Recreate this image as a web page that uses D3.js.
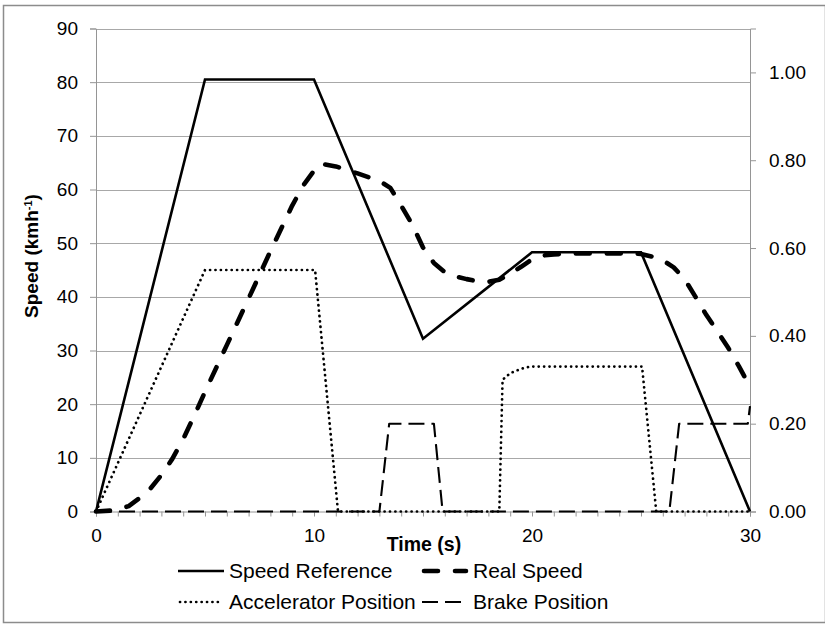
<!DOCTYPE html>
<html>
<head>
<meta charset="utf-8">
<script src="https://cdn.jsdelivr.net/npm/d3@7"></script>
<style>
  html, body { margin: 0; padding: 0; background: #fff; }
  svg { display: block; }
  text { font-family: "Liberation Sans", Arial, sans-serif; fill: #000; }
</style>
</head>
<body>
<svg id="chart" width="825" height="635"></svg>
<script>
// ---------------- DATA ----------------
const speedRefTime  = [0, 5, 10, 15, 20, 25, 30];
const speedRefValue = [0, 80.5, 80.5, 32.2, 48.3, 48.3, 0];

const realSpeedTime  = [0, 0.8, 1, 1.5, 2, 2.5, 3, 3.5, 4, 4.5, 5, 6, 7, 8, 9, 9.5, 10, 10.3, 11, 12, 13, 13.5, 14, 14.5, 15, 15.5, 16, 16.5, 17, 17.5, 18, 18.5, 19, 19.5, 20, 20.5, 21, 22, 23, 24, 25, 25.5, 26, 26.5, 27, 27.5, 28, 28.5, 29, 29.5, 30];
const realSpeedValue = [0, 0.2, 0.4, 1.0, 2.5, 4.3, 6.8, 9.8, 13.5, 17.8, 22.3, 31, 39.7, 48.5, 57, 60.7, 63.5, 64.8, 64.3, 63, 61.6, 60.3, 57, 53.5, 49.2, 46.3, 44.6, 43.8, 43.3, 42.9, 42.8, 43.2, 44.3, 45.6, 47, 47.7, 47.9, 48.1, 48.1, 48.1, 48, 47.5, 46.8, 45.5, 43.3, 40, 36.6, 33.6, 30.5, 27, 23.2];

const accelTime  = [0, 5, 10.05, 11.1, 18.5, 18.65, 19, 19.5, 19.9, 25.05, 25.7, 30];
const accelValue = [0, 0.55, 0.55, 0, 0, 0.30, 0.315, 0.325, 0.33, 0.33, 0, 0];

const brakeTime  = [0, 13.0, 13.45, 15.5, 15.9, 26.3, 26.75, 29.9, 30];
const brakeValue = [0, 0, 0.2, 0.2, 0, 0, 0.2, 0.2, 0.24];

const leftTicks  = [0, 10, 20, 30, 40, 50, 60, 70, 80, 90];
const rightTicks = [0, 0.2, 0.4, 0.6, 0.8, 1.0];
const xLabelTicks = [0, 10, 20, 30];
const xMinorTicks = d3.range(0, 31, 1);

const seriesNames = ["Speed Reference", "Real Speed", "Accelerator Position", "Brake Position"];

// ---------------- LAYOUT ----------------
const svg = d3.select("#chart");
const plot = { left: 96, right: 750, top: 28.5, bottom: 511.5 };

const x  = d3.scaleLinear().domain([0, 30]).range([plot.left, plot.right]);
const yL = d3.scaleLinear().domain([0, 90]).range([plot.bottom, plot.top]);
const yR = d3.scaleLinear().domain([0, 1.1]).range([plot.bottom, plot.top]);

const gridColor = "#a8a8a8";
const axisColor = "#959595";

// outer border
svg.append("rect")
  .attr("x", 3.5).attr("y", 5.5)
  .attr("width", 822).attr("height", 617)
  .attr("fill", "none").attr("stroke", "#8c8c8c").attr("stroke-width", 1.5);

// gridlines
svg.append("g").selectAll("line")
  .data(leftTicks.filter(d => d > 0))
  .join("line")
  .attr("x1", plot.left).attr("x2", plot.right)
  .attr("y1", d => Math.round(yL(d)) + 0.5).attr("y2", d => Math.round(yL(d)) + 0.5)
  .attr("stroke", gridColor).attr("stroke-width", 1);

// Left axis
const gL = svg.append("g").attr("transform", `translate(${plot.left},0)`)
  .call(d3.axisLeft(yL).tickValues(leftTicks).tickSize(6).tickPadding(12));
// Right axis
const gR = svg.append("g").attr("transform", `translate(${plot.right},0)`)
  .call(d3.axisRight(yR).tickValues(rightTicks).tickSize(6).tickPadding(13).tickFormat(d3.format(".2f")));
// Bottom axis
const gB = svg.append("g").attr("transform", `translate(0,${plot.bottom})`)
  .call(d3.axisBottom(x).tickValues(xMinorTicks).tickSize(5).tickPadding(12)
    .tickFormat(d => xLabelTicks.includes(d) ? d : ""));

[gL, gR, gB].forEach(g => {
  g.selectAll(".domain").attr("stroke", axisColor).attr("stroke-width", 1);
  g.selectAll(".tick line").attr("stroke", axisColor).attr("stroke-width", 1);
  g.selectAll(".tick text").attr("fill", "#000")
    .style("font-size", "19px").style("font-family", '"Liberation Sans", Arial, sans-serif');
});

// ---------------- LINES ----------------
const toPts = (t, v) => t.map((d, i) => [d, v[i]]);
const lineL = d3.line().x(d => x(d[0])).y(d => yL(d[1]));
const lineR = d3.line().x(d => x(d[0])).y(d => yR(d[1]));

const styles = [
  { w: 2.6, dash: null, cap: "butt" },
  { w: 4.6, dash: "14,17", cap: "round" },
  { w: 2.7, dash: "0.1,5.3", cap: "round" },
  { w: 2.1, dash: "16,7", cap: "butt" }
];

svg.append("path").datum(toPts(brakeTime, brakeValue))
  .attr("d", lineR).attr("fill", "none").attr("stroke", "#000")
  .attr("stroke-width", styles[3].w).attr("stroke-dasharray", styles[3].dash)
  .attr("stroke-linecap", styles[3].cap).attr("stroke-linejoin", "round");

svg.append("path").datum(toPts(accelTime, accelValue))
  .attr("d", lineR).attr("fill", "none").attr("stroke", "#000")
  .attr("stroke-width", styles[2].w).attr("stroke-dasharray", styles[2].dash)
  .attr("stroke-linecap", styles[2].cap).attr("stroke-linejoin", "round");

svg.append("path").datum(toPts(realSpeedTime, realSpeedValue))
  .attr("d", lineL).attr("fill", "none").attr("stroke", "#000")
  .attr("stroke-width", styles[1].w).attr("stroke-dasharray", styles[1].dash)
  .attr("stroke-linecap", styles[1].cap).attr("stroke-linejoin", "round");

svg.append("path").datum(toPts(speedRefTime, speedRefValue))
  .attr("d", lineL).attr("fill", "none").attr("stroke", "#000")
  .attr("stroke-width", styles[0].w).attr("stroke-linejoin", "miter");

// ---------------- TITLES ----------------
const yTitle = svg.append("text")
  .attr("transform", "translate(38,256) rotate(-90)")
  .attr("text-anchor", "middle")
  .style("font-size", "19px").style("font-weight", "bold");
yTitle.append("tspan").text("Speed (kmh");
yTitle.append("tspan").attr("baseline-shift", "super").style("font-size", "11px").text("-1");
yTitle.append("tspan").text(")");

svg.append("text")
  .attr("x", (plot.left + plot.right) / 2 + 1).attr("y", 551)
  .attr("text-anchor", "middle")
  .style("font-size", "19.5px").style("font-weight", "bold")
  .text("Time (s)");

// ---------------- LEGEND ----------------
const legendItems = [
  { name: seriesNames[0], s: styles[0], x: 178, y: 571 },
  { name: seriesNames[1], s: styles[1], x: 422, y: 571 },
  { name: seriesNames[2], s: styles[2], x: 178, y: 602 },
  { name: seriesNames[3], s: styles[3], x: 422, y: 602 }
];
const lg = svg.append("g").selectAll("g").data(legendItems).join("g");
lg.append("line")
  .attr("x1", d => d.x + (d.s.cap === "round" ? 2 : 0)).attr("x2", d => d.x + 46 - (d.s.cap === "round" ? 2 : 0))
  .attr("y1", d => d.y).attr("y2", d => d.y)
  .attr("stroke", "#000").attr("stroke-width", d => d.s.w)
  .attr("stroke-dasharray", d => d.s.dash)
  .attr("stroke-linecap", d => d.s.cap);
lg.append("text")
  .attr("x", d => d.x + 51).attr("y", d => d.y + 7)
  .style("font-size", "21px")
  .text(d => d.name);
</script>
</body>
</html>
